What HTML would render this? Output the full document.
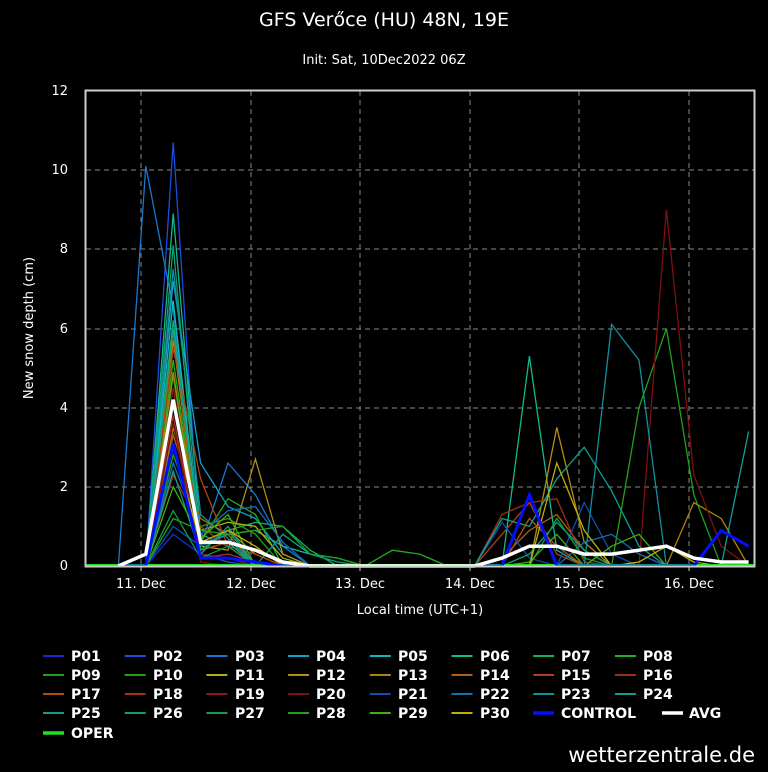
<!DOCTYPE html>
<html><head><meta charset="utf-8"><style>
body{margin:0;background:#000;width:768px;height:768px;overflow:hidden;font-family:"DejaVu Sans","Liberation Sans",sans-serif;}
</style></head><body>
<svg id="s" width="768" height="768" viewBox="0 0 768 768" xmlns="http://www.w3.org/2000/svg">
<rect width="768" height="768" fill="#000"/>
<text x="384" y="26" fill="#fff" font-size="19" text-anchor="middle" font-family="DejaVu Sans, sans-serif">GFS Verőce (HU) 48N, 19E</text>
<text x="384" y="64" fill="#fff" font-size="13" text-anchor="middle" font-family="DejaVu Sans, sans-serif">Init: Sat, 10Dec2022 06Z</text>
<g id="grid" stroke="#888" stroke-dasharray="5,4" stroke-width="1">
<line x1="86" x2="755" y1="170" y2="170"/><line x1="86" x2="755" y1="249" y2="249"/><line x1="86" x2="755" y1="329" y2="329"/><line x1="86" x2="755" y1="408" y2="408"/><line x1="86" x2="755" y1="487" y2="487"/>
<line x1="141" x2="141" y1="91" y2="566"/><line x1="251" x2="251" y1="91" y2="566"/><line x1="360" x2="360" y1="91" y2="566"/><line x1="470" x2="470" y1="91" y2="566"/><line x1="579" x2="579" y1="91" y2="566"/><line x1="689" x2="689" y1="91" y2="566"/>
</g>
<g id="series" fill="none" stroke-linejoin="miter"></g>
<rect x="85.5" y="90.5" width="669" height="476" fill="none" stroke="#ccc" stroke-width="2"/>
<g fill="#fff" font-size="13" text-anchor="end" font-family="DejaVu Sans, sans-serif">
<text x="68" y="570">0</text><text x="68" y="491">2</text><text x="68" y="412">4</text><text x="68" y="333">6</text><text x="68" y="253">8</text><text x="68" y="174">10</text><text x="68" y="95">12</text>
</g>
<g stroke="#ccc"><line x1="141" x2="141" y1="566" y2="571"/><line x1="251" x2="251" y1="566" y2="571"/><line x1="360" x2="360" y1="566" y2="571"/><line x1="470" x2="470" y1="566" y2="571"/><line x1="579" x2="579" y1="566" y2="571"/><line x1="689" x2="689" y1="566" y2="571"/></g>
<g fill="#fff" font-size="13" text-anchor="middle" font-family="DejaVu Sans, sans-serif">
<text x="141" y="588">11. Dec</text><text x="251" y="588">12. Dec</text><text x="360" y="588">13. Dec</text><text x="470" y="588">14. Dec</text><text x="579" y="588">15. Dec</text><text x="689" y="588">16. Dec</text>
<text x="420" y="614">Local time (UTC+1)</text>
<text transform="translate(33,328) rotate(-90)">New snow depth (cm)</text>
</g>
<g id="legend" font-size="14" font-weight="bold" fill="#fff" font-family="DejaVu Sans, sans-serif">
<text x="71" y="661">P01</text><text x="153" y="661">P02</text><text x="235" y="661">P03</text><text x="316" y="661">P04</text><text x="398" y="661">P05</text><text x="480" y="661">P06</text><text x="561" y="661">P07</text><text x="643" y="661">P08</text>
<text x="71" y="680">P09</text><text x="153" y="680">P10</text><text x="235" y="680">P11</text><text x="316" y="680">P12</text><text x="398" y="680">P13</text><text x="480" y="680">P14</text><text x="561" y="680">P15</text><text x="643" y="680">P16</text>
<text x="71" y="699">P17</text><text x="153" y="699">P18</text><text x="235" y="699">P19</text><text x="316" y="699">P20</text><text x="398" y="699">P21</text><text x="480" y="699">P22</text><text x="561" y="699">P23</text><text x="643" y="699">P24</text>
<text x="71" y="718">P25</text><text x="153" y="718">P26</text><text x="235" y="718">P27</text><text x="316" y="718">P28</text><text x="398" y="718">P29</text><text x="480" y="718">P30</text><text x="561" y="718">CONTROL</text><text x="689" y="718">AVG</text>
<text x="71" y="738">OPER</text>
</g>
<text x="755" y="762" fill="#fff" font-size="21" text-anchor="end" font-family="DejaVu Sans, sans-serif">wetterzentrale.de</text>
</svg>
<script>
var cols=["#1a2ad0","#1a4ee0","#1a78d0","#10a0c8","#10b8c0","#10b890","#10b060","#20b020",
"#20a020","#20a010","#b0b010","#b09010","#b08010","#b06010","#b04010","#a03010",
"#b05010","#a03020","#901818","#801010","#1050b0","#1070b0","#1090a0","#10a090",
"#10a080","#10a070","#10a040","#20a020","#40b010","#c0b000"];
var D=[
{3:0.8,4:0.3,5:0.2},{3:10.7,4:0.3,5:0.1},{1:0,2:10.1,3:6.5,4:0.5,5:2.6,6:1.8,7:0.5},{3:7.2,4:2.6,5:1.5,6:1.2,7:0.3},
{3:6.7,4:0.5,5:0.8,6:0.9,7:0.5,8:0.3,9:0.2},{3:8.9,4:0.8,5:0.5,15:0,16:5.3,17:0.4},{3:6.2,4:0.5,5:0.9,6:1.1,7:1.0,8:0.4},{3:5.2,4:0.6,5:1.7,6:1.3,10:0,11:0.4,12:0.3,13:0},
{3:4.8,4:0.4,5:0.6,19:0,20:4.0,21:6.0,22:1.8,23:0},{3:2.8,4:1.0,5:1.2,6:0.8},{3:3.5,4:0.9,5:1.1,6:1.0,7:0.2},{3:5.7,4:0.5,5:0.4,6:2.7,7:0.3,16:0,17:3.5,18:0.6},
{3:4.9,4:0.5,5:0.9,6:0.3,21:0,22:1.6,23:1.2,24:0},{3:3.3,4:1.2,5:0.8,15:0.2,16:0.9,17:1.3,18:0.4},{3:5.5,4:2.2,5:0.5,6:0.3,15:0.8,16:1.6,17:0.3},{3:2.3,4:1.0,5:0.5,15:1.3,16:1.6,17:1.7,18:0.1},
{3:5.9,4:0.4,5:0.6,16:1.2,17:0.5},{3:3.8,4:0.2,5:0.3,6:0.1},{3:4.5,4:0.3,5:0.2},{3:3.6,4:0.1,20:0,21:9.0,22:2.3,23:0.5,24:0},
{3:1.0,4:0.5,5:0.9,15:1.1,16:0.2,18:1.6,19:0.3},{3:2.6,4:0.8,5:1.4,6:1.5,7:0.6,18:0.6,19:0.8,20:0.3},{3:7.5,4:1.3,5:0.7,18:0,19:6.1,20:5.2,21:0},{3:6.0,4:0.6,5:0.6,15:1.2,16:1.0,17:2.2,18:3.0,19:1.9,20:0.5,23:0,24:3.4},
{3:2.4,4:0.3,5:1.0,7:0.8,8:0.3,9:0.1},{3:8.1,4:0.4,5:0.9,16:0.3,17:1.1,18:0.4},{3:1.4,4:0.2,5:0.5,17:1.2,18:0.2},{3:1.2,4:0.9,5:0.8,6:0.9,7:1.0,8:0.3,9:0.2},
{3:2.0,4:0.7,5:1.3,16:0.1,17:0.8,19:0.5,20:0.8},{3:3.0,4:0.6,5:0.9,6:0.5,17:2.6,18:0.9,20:0.1,21:0.5,22:0.1}];
var NS='http://www.w3.org/2000/svg';
var g=document.getElementById('series');
function X(i){return 91+i*27.4}function Y(v){return 566-v*39.6}
function pl(vals,c,w){var p=[];for(var i=1;i<=24;i++){var v=vals[i]||0;p.push(X(i).toFixed(1)+','+Y(v).toFixed(1));}
var e=document.createElementNS(NS,'polyline');e.setAttribute('points',p.join(' '));e.setAttribute('stroke',c);e.setAttribute('stroke-width',w);e.setAttribute('fill','none');g.appendChild(e);}
for(var k=0;k<30;k++)pl(D[k],cols[k],1.3);
var o=document.createElementNS(NS,'line');o.setAttribute('x1',86);o.setAttribute('x2',755);o.setAttribute('y1',565);o.setAttribute('y2',565);o.setAttribute('stroke','#20e020');o.setAttribute('stroke-width',2);g.appendChild(o);
pl({3:3.1,4:0.2,5:0.2,6:0.1,16:1.8,23:0.9,24:0.5},'#0010ff',3);
pl({2:0.3,3:4.2,4:0.6,5:0.6,6:0.4,7:0.1,15:0.2,16:0.5,17:0.5,18:0.3,19:0.3,20:0.4,21:0.5,22:0.2,23:0.1,24:0.1},'#fff',3.5);
var L=document.getElementById('legend');
function ll(x1,y,col,w){var l=document.createElementNS(NS,'line');l.setAttribute('x1',x1);l.setAttribute('x2',x1+21);l.setAttribute('y1',y);l.setAttribute('y2',y);l.setAttribute('stroke',col);l.setAttribute('stroke-width',w);L.appendChild(l);}
var rows=[656,675,694,713,733];
for(var r=0;r<4;r++)for(var c=0;c<8;c++){var idx=r*8+c;if(idx<30)ll(43+c*81.7,rows[r],cols[idx],2);}
ll(533,713,'#0010ff',3.5);
ll(662,713,'#fff',3.5);
ll(43,733,'#20e020',3.5);
</script>
</body></html>
